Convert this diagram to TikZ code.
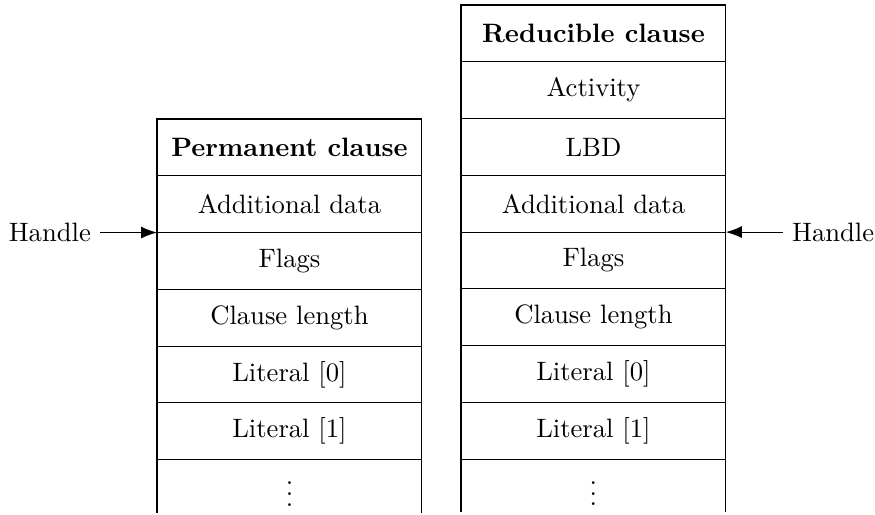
\documentclass[tikz,border=0pt]{standalone}
\usepackage{amsmath,amssymb}
\usepackage{tikz}
\usetikzlibrary{arrows.meta,positioning}

\tikzset{
  cell/.style={draw,minimum width=3.5cm,minimum height=0.75cm,outer sep=0pt,inner sep=0pt},
  opencell/.style={minimum width=3.5cm,minimum height=0.7cm,outer sep=0pt,inner sep=0pt},
  handle/.style={-{Latex[length=6pt,width=4.5pt]}}
}

\begin{document}
\begin{tikzpicture}
  \useasboundingbox (0,0) rectangle (11.56,-6.80);

  % permanent clause
  \node[cell] (p0) at (3.824,-1.947) {\textbf{Permanent clause}};
  \node[cell,below=0pt of p0] (p1) {Additional data};
  \node[cell,below=0pt of p1] (p2) {Flags};
  \node[cell,below=0pt of p2] (p3) {Clause length};
  \node[cell,below=0pt of p3] (p4) {Literal [0]};
  \node[cell,below=0pt of p4] (p5) {Literal [1]};
  \node[opencell,below=0pt of p5] (p6) {$\vdots$};
  \draw (p6.north west) -- (p6.south west);
  \draw (p6.north east) -- (p6.south east);

  % reducible clause
  \node[cell] (r0) at (7.84,-0.441) {\textbf{Reducible clause}};
  \node[cell,below=0pt of r0] (r1) {Activity};
  \node[cell,below=0pt of r1] (r2) {LBD};
  \node[cell,below=0pt of r2] (r3) {Additional data};
  \node[cell,below=0pt of r3] (r4) {Flags};
  \node[cell,below=0pt of r4] (r5) {Clause length};
  \node[cell,below=0pt of r5] (r6) {Literal [0]};
  \node[cell,below=0pt of r6] (r7) {Literal [1]};
  \node[opencell,below=0pt of r7] (r8) {$\vdots$};
  \draw (r8.north west) -- (r8.south west);
  \draw (r8.north east) -- (r8.south east);

  % handles
  \node[left=0.75cm of p1.south west] (hp) {Handle};
  \draw[handle] (hp) -- (p1.south west);
  \node[right=0.75cm of r3.south east] (hr) {Handle};
  \draw[handle] (hr) -- (r3.south east);
\end{tikzpicture}
\end{document}
